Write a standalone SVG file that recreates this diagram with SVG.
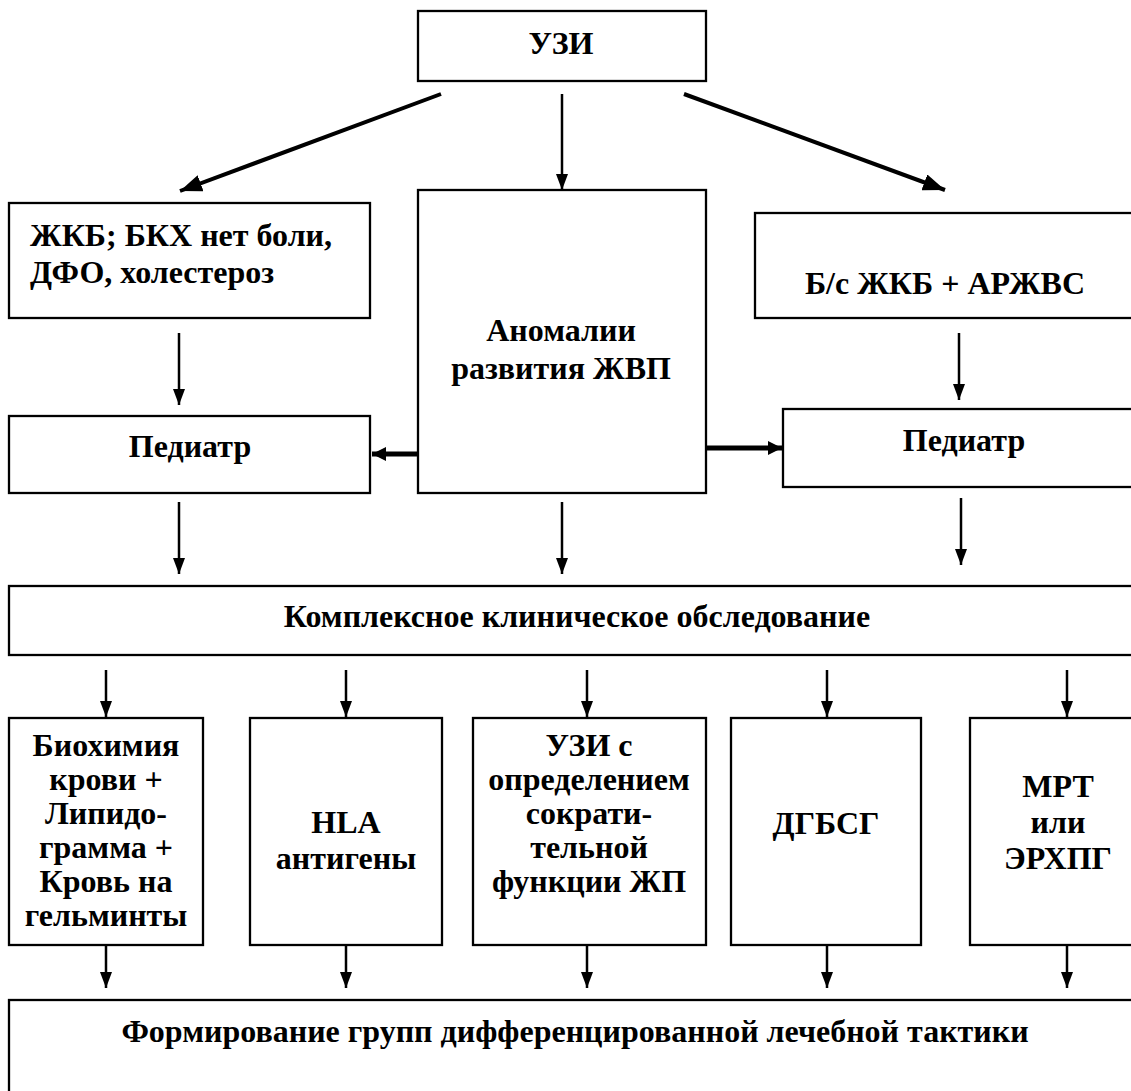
<svg xmlns="http://www.w3.org/2000/svg" width="1131" height="1091" viewBox="0 0 1131 1091">
<style>
.box{fill:#fff;stroke:#000;stroke-width:2.3}
.ln{stroke:#000;stroke-width:2.5;fill:none;marker-end:url(#ah)}
.dg{stroke:#000;stroke-width:4;fill:none;marker-end:url(#ahd)}
.hz{stroke:#000;stroke-width:5;fill:none;marker-end:url(#ahh)}
</style>
<defs>
<marker id="ah" markerUnits="userSpaceOnUse" markerWidth="16" markerHeight="12" refX="16" refY="6" orient="auto"><path d="M0,0 L16,6 L0,12 z" fill="#000"/></marker>
<marker id="ahd" markerUnits="userSpaceOnUse" markerWidth="22" markerHeight="17" refX="22" refY="8.5" orient="auto"><path d="M0,0 L22,8.5 L0,17 z" fill="#000"/></marker>
<marker id="ahh" markerUnits="userSpaceOnUse" markerWidth="14" markerHeight="14" refX="14" refY="7" orient="auto"><path d="M0,0 L14,7 L0,14 z" fill="#000"/></marker>
</defs>
<rect width="1131" height="1091" fill="#fff"/>

<g id="connectors">
<line class="dg" x1="441" y1="94" x2="180" y2="191"/>
<line class="ln" x1="562" y1="94" x2="562" y2="190"/>
<line class="dg" x1="684" y1="94" x2="945" y2="190"/>
<line class="ln" x1="179" y1="333" x2="179" y2="405"/>
<line class="ln" x1="959" y1="333" x2="959" y2="400"/>
<line class="hz" x1="419" y1="454" x2="372" y2="454"/>
<line class="hz" x1="706" y1="448" x2="782" y2="448"/>
<line class="ln" x1="179" y1="502" x2="179" y2="574"/>
<line class="ln" x1="562" y1="502" x2="562" y2="574"/>
<line class="ln" x1="961" y1="498" x2="961" y2="565"/>
<line class="ln" x1="106" y1="670" x2="106" y2="717"/>
<line class="ln" x1="346" y1="670" x2="346" y2="717"/>
<line class="ln" x1="587" y1="670" x2="587" y2="717"/>
<line class="ln" x1="827" y1="670" x2="827" y2="717"/>
<line class="ln" x1="1067" y1="670" x2="1067" y2="717"/>
<line class="ln" x1="106" y1="945" x2="106" y2="988"/>
<line class="ln" x1="346" y1="945" x2="346" y2="988"/>
<line class="ln" x1="587" y1="945" x2="587" y2="988"/>
<line class="ln" x1="827" y1="945" x2="827" y2="988"/>
<line class="ln" x1="1067" y1="945" x2="1067" y2="988"/>
</g>

<g id="nodes" font-family="'Liberation Serif', serif" font-weight="bold" font-size="32" fill="#000">
<g id="uzi"><rect class="box" x="418" y="11" width="288" height="70"/><text x="561" y="54" text-anchor="middle">УЗИ</text></g>

<g id="zhkb"><rect class="box" x="9" y="203" width="361" height="115"/>
<text x="30" y="246">ЖКБ; БКХ нет боли,</text>
<text x="30" y="283">ДФО, холестероз</text></g>

<g id="anomalii" text-anchor="middle"><rect class="box" x="418" y="190" width="288" height="303"/>
<text x="561" y="341">Аномалии</text>
<text x="561" y="379">развития ЖВП</text></g>

<g id="bs" text-anchor="middle"><rect class="box" x="755" y="213" width="390" height="105"/>
<text x="945" y="294">Б/с ЖКБ + АРЖВС</text></g>

<g id="ped1" text-anchor="middle"><rect class="box" x="9" y="416" width="361" height="77"/>
<text x="190" y="457">Педиатр</text></g>

<g id="ped2" text-anchor="middle"><rect class="box" x="783" y="409" width="360" height="78"/>
<text x="964" y="451">Педиатр</text></g>

<g id="kompleks" text-anchor="middle"><rect class="box" x="9" y="586" width="1140" height="69"/>
<text x="577" y="627">Комплексное клиническое обследование</text></g>

<g id="bio" text-anchor="middle"><rect class="box" x="9" y="718" width="194" height="227"/>
<text x="106" y="756">Биохимия</text>
<text x="106" y="790">крови +</text>
<text x="106" y="824">Липидо-</text>
<text x="106" y="858">грамма +</text>
<text x="106" y="892">Кровь на</text>
<text x="106" y="926">гельминты</text></g>

<g id="hla" text-anchor="middle"><rect class="box" x="250" y="718" width="192" height="227"/>
<text x="346" y="833">HLA</text>
<text x="346" y="869">антигены</text></g>

<g id="uzis" text-anchor="middle"><rect class="box" x="473" y="718" width="233" height="227"/>
<text x="589" y="756">УЗИ с</text>
<text x="589" y="790">определением</text>
<text x="589" y="824">сократи-</text>
<text x="589" y="858">тельной</text>
<text x="589" y="892">функции ЖП</text></g>

<g id="dgbsg" text-anchor="middle"><rect class="box" x="731" y="718" width="190" height="227"/>
<text x="826" y="834">ДГБСГ</text></g>

<g id="mrt" text-anchor="middle"><rect class="box" x="970" y="718" width="180" height="227"/>
<text x="1058" y="797">МРТ</text>
<text x="1058" y="833">или</text>
<text x="1058" y="869">ЭРХПГ</text></g>

<g id="formirovanie" text-anchor="middle"><rect class="box" x="9" y="1000" width="1140" height="120"/>
<text x="575" y="1042">Формирование групп дифференцированной лечебной тактики</text></g>
</g>
</svg>
